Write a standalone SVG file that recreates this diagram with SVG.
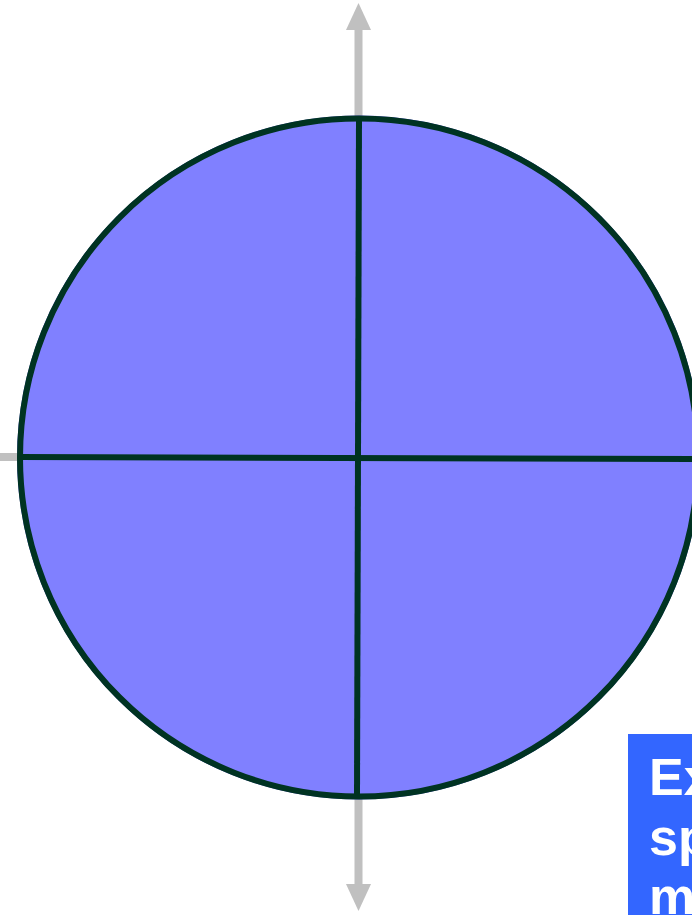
<svg xmlns="http://www.w3.org/2000/svg" width="692" height="915" viewBox="0 0 692 915">
<style>
.axis{stroke:#c0c0c0;stroke-width:8;fill:none}
.head{fill:#c0c0c0}
.dark{stroke:#003322;stroke-width:6;fill:none}
.lbl{font-family:"Liberation Sans",Arial,sans-serif;font-weight:bold;font-size:52px;fill:#ffffff}
</style>
<g id="axes">
<line class="axis" x1="358.5" y1="25" x2="358.5" y2="890"/>
<polygon class="head" points="358.5,3 346,30 371,30"/>
<polygon class="head" points="358.5,911 346,884 371,884"/>
<line x1="0" y1="457" x2="18" y2="457" stroke="#c0c0c0" stroke-width="8"/>
</g>
<g id="circle">
<circle cx="359" cy="457.5" r="341.5" fill="#8080ff" stroke="#5555dd" stroke-width="1"/>
<circle class="dark" cx="359" cy="457.5" r="339"/>
<line class="dark" x1="359" y1="118" x2="357" y2="797"/>
<line class="dark" x1="19" y1="457" x2="697" y2="459"/>
</g>
<g id="label">
<rect x="628" y="734" width="80" height="190" fill="#3366ff"/>
<text class="lbl" x="649" y="795">Ex</text>
<text class="lbl" x="649" y="855">sp</text>
<text class="lbl" x="649" y="914">m</text>
</g>
</svg>
